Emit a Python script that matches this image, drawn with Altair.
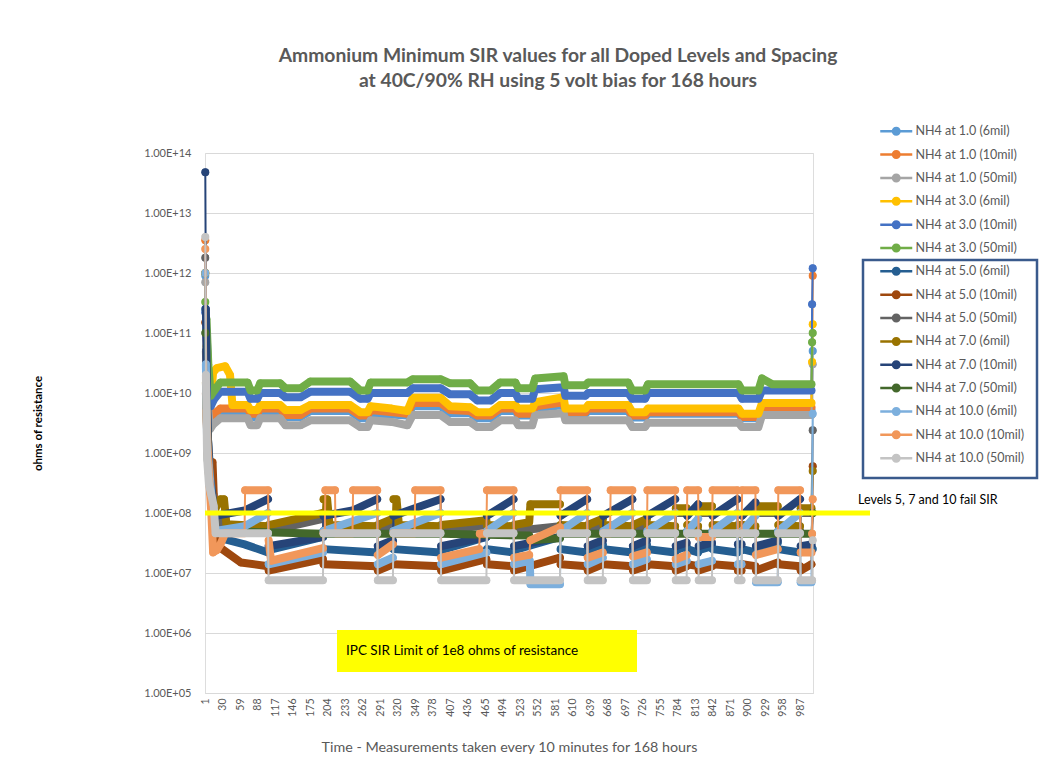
import altair as alt
import pandas as pd

names = ["NH4 at 1.0 (6mil)", "NH4 at 1.0 (10mil)", "NH4 at 1.0  (50mil)",
         "NH4 at 3.0 (6mil)", "NH4 at 3.0 (10mil)", "NH4 at 3.0 (50mil)",
         "NH4 at 5.0 (6mil)", "NH4 at 5.0 (10mil)", "NH4 at 5.0 (50mil)",
         "NH4 at 7.0 (6mil)", "NH4 at 7.0 (10mil)", "NH4 at 7.0 (50mil)",
         "NH4 at 10.0 (6mil)", "NH4 at 10.0 (10mil)", "NH4 at 10.0 (50mil)"]
colors = ["#5B9BD5", "#ED7D31", "#A5A5A5", "#FFC000", "#4472C4", "#70AD47",
          "#255E91", "#9E480E", "#636363", "#997300", "#264478", "#43682B",
          "#7CAFDD", "#F1975A", "#C4C4C4"]

# each series: list of runs of (measurement index, ohms)
s01 = [[(1, 9.0e11)],
       [(3, 5.0e10), (6, 8.0e9), (10, 3.5e9), (16, 4.2e9), (26, 5.0e9), (71, 5.0e9), (76, 4.0e9), (87, 4.0e9),
        (92, 5.0e9), (125, 5.0e9), (134, 4.0e9), (159, 4.0e9), (175, 5.0e9), (241, 5.0e9), (258, 3.8e9),
        (270, 3.8e9), (275, 4.6e9), (336, 4.2e9), (345, 6.0e9), (391, 6.0e9), (407, 4.6e9), (440, 4.6e9),
        (452, 3.8e9), (474, 3.8e9), (490, 5.0e9), (515, 5.0e9), (520, 4.2e9), (543, 4.2e9), (548, 5.5e9),
        (595, 6.3e9), (598, 4.5e9), (631, 4.5e9), (636, 5.0e9), (702, 5.0e9), (709, 3.9e9), (730, 3.9e9),
        (735, 4.5e9), (885, 4.5e9), (891, 3.8e9), (918, 3.8e9), (924, 5.2e9), (1006, 5.2e9)],
       [(1008, 5.0e10)]]
s02 = [[(1, 3.5e12)],
       [(3, 9.0e10), (6, 1.5e10), (10, 4.0e9), (16, 4.5e9), (26, 5.5e9), (71, 5.5e9), (76, 4.5e9), (87, 4.5e9),
        (92, 5.5e9), (125, 5.5e9), (134, 4.3e9), (159, 4.3e9), (175, 5.5e9), (241, 5.5e9), (258, 4.2e9),
        (270, 4.2e9), (275, 5.2e9), (336, 4.5e9), (345, 6.8e9), (391, 6.8e9), (407, 5.2e9), (440, 5.0e9),
        (452, 4.2e9), (474, 4.2e9), (490, 5.5e9), (515, 5.5e9), (520, 4.5e9), (543, 4.5e9), (548, 6.0e9),
        (595, 7.0e9), (598, 4.8e9), (631, 4.8e9), (636, 5.5e9), (702, 5.5e9), (709, 4.2e9), (730, 4.2e9),
        (735, 4.8e9), (885, 4.8e9), (891, 4.0e9), (918, 4.0e9), (924, 5.8e9), (1006, 5.8e9)],
       [(1008, 9.0e11)]]
s03 = [[(1, 7.0e11)],
       [(3, 3.0e10), (6, 5.0e9), (9, 2.5e9), (14, 3.0e9), (26, 3.8e9), (71, 3.8e9), (76, 2.9e9), (87, 2.9e9),
        (92, 3.8e9), (125, 3.8e9), (134, 2.9e9), (159, 2.9e9), (175, 3.5e9), (241, 3.5e9), (258, 2.7e9),
        (270, 2.7e9), (275, 3.5e9), (310, 3.3e9), (336, 2.9e9), (345, 4.3e9), (391, 4.3e9), (407, 3.3e9),
        (440, 3.3e9), (452, 2.7e9), (474, 2.7e9), (490, 3.5e9), (515, 3.5e9), (520, 2.9e9), (543, 2.9e9),
        (548, 4.3e9), (595, 4.6e9), (598, 3.5e9), (631, 3.5e9), (636, 3.5e9), (702, 3.5e9), (709, 2.7e9),
        (730, 2.7e9), (735, 3.2e9), (885, 3.2e9), (891, 2.7e9), (918, 2.7e9), (924, 4.3e9), (1006, 4.3e9)],
       [(1008, 3.0e10)]]
s04 = [[(1, 1.0e12)],
       [(3, 6.0e10), (6, 1.2e10), (10, 8.0e9), (14, 2.2e10), (20, 2.6e10), (34, 2.8e10), (42, 2.0e10),
        (46, 6.3e9), (71, 6.3e9), (76, 5.2e9), (87, 5.2e9), (92, 6.3e9), (125, 6.3e9), (134, 5.2e9),
        (159, 5.2e9), (175, 6.3e9), (241, 6.3e9), (258, 4.8e9), (270, 4.8e9), (275, 6.0e9), (310, 5.5e9),
        (336, 5.0e9), (345, 8.3e9), (391, 8.3e9), (407, 6.0e9), (440, 5.8e9), (452, 4.8e9), (474, 4.8e9),
        (490, 6.3e9), (515, 6.3e9), (520, 5.5e9), (543, 5.5e9), (548, 7.0e9), (595, 8.5e9), (598, 5.5e9),
        (631, 5.5e9), (636, 6.3e9), (702, 6.3e9), (709, 4.8e9), (730, 4.8e9), (735, 5.5e9), (885, 5.5e9),
        (891, 4.5e9), (918, 4.5e9), (924, 6.8e9), (1006, 6.8e9)],
       [(1007, 3.3e10)], [(1008, 1.4e11)]]
s05 = [[(1, 2.2e11)],
       [(3, 1.1e11), (6, 2.0e10), (10, 6.0e9), (16, 8.0e9), (26, 1.05e10), (71, 1.05e10), (76, 8.0e9),
        (87, 8.0e9), (92, 1.0e10), (125, 1.0e10), (134, 8.5e9), (159, 8.5e9), (175, 1.05e10), (241, 1.05e10),
        (258, 8.0e9), (270, 8.0e9), (275, 1.0e10), (336, 1.0e10), (345, 1.2e10), (391, 1.2e10), (407, 9.5e9),
        (440, 9.5e9), (452, 7.5e9), (474, 7.5e9), (490, 1.0e10), (515, 1.0e10), (520, 8.0e9), (543, 8.0e9),
        (548, 1.15e10), (595, 1.25e10), (598, 9.0e9), (631, 9.0e9), (636, 1.0e10), (702, 1.0e10), (709, 8.0e9),
        (730, 8.0e9), (735, 1.0e10), (885, 1.0e10), (891, 8.0e9), (918, 8.0e9), (924, 1.1e10), (1006, 1.1e10)],
       [(1007, 3.0e11)], [(1008, 1.2e12)]]
s06 = [[(1, 3.3e11)],
       [(3, 1.7e11), (6, 3.0e10), (10, 9.0e9), (16, 1.1e10), (26, 1.5e10), (71, 1.5e10), (76, 1.1e10),
        (87, 1.1e10), (92, 1.45e10), (125, 1.45e10), (134, 1.2e10), (159, 1.2e10), (175, 1.55e10),
        (241, 1.55e10), (258, 1.1e10), (270, 1.1e10), (275, 1.5e10), (336, 1.5e10), (345, 1.7e10),
        (391, 1.7e10), (407, 1.45e10), (440, 1.45e10), (452, 1.1e10), (474, 1.1e10), (490, 1.5e10),
        (515, 1.5e10), (520, 1.2e10), (543, 1.2e10), (548, 1.75e10), (595, 1.9e10), (598, 1.35e10),
        (631, 1.35e10), (636, 1.5e10), (702, 1.5e10), (709, 1.1e10), (730, 1.1e10), (735, 1.4e10),
        (885, 1.4e10), (891, 1.1e10), (918, 1.1e10), (924, 1.75e10), (941, 1.4e10), (1006, 1.4e10)],
       [(1007, 7.0e10)], [(1008, 1.0e11)]]
s07 = [[(1, 2.5e11)],
       [(3, 2.0e10), (5, 2.0e9), (9, 5.0e8), (13, 2.0e8), (16, 6.0e7), (18, 4.0e7), (66, 3.0e7), (105, 2.2e7)],
       [(106, 2.4e7), (196, 4.0e7)], [(197, 2.5e7), (286, 2.2e7)], [(287, 2.4e7), (312, 3.0e7)],
       [(313, 2.5e7), (391, 2.2e7)], [(392, 2.4e7), (467, 4.0e7)], [(468, 2.5e7), (512, 2.2e7)],
       [(513, 2.4e7), (589, 4.0e7)], [(590, 2.5e7), (634, 2.2e7)], [(635, 2.4e7), (660, 3.0e7)],
       [(661, 2.5e7), (709, 2.2e7)], [(710, 2.4e7), (733, 3.0e7)], [(734, 2.5e7), (780, 2.2e7)],
       [(781, 2.4e7), (799, 2.8e7)], [(800, 2.5e7), (818, 2.2e7)], [(819, 2.4e7), (841, 2.8e7)],
       [(842, 2.5e7), (883, 2.2e7)], [(884, 2.4e7), (890, 2.4e7)], [(891, 2.5e7), (913, 2.2e7)],
       [(914, 2.4e7), (950, 3.2e7)], [(951, 2.5e7), (987, 2.2e7)], [(988, 2.4e7), (1006, 2.8e7)],
       [(1008, 2.5e7)]]
s08 = [[(1, 1.5e11)],
       [(2, 1.0e10), (5, 1.0e9), (9, 4.0e8), (13, 7.0e8), (15, 2.0e8), (18, 3.0e7), (60, 1.5e7), (105, 1.3e7)],
       [(106, 1.1e7), (196, 1.7e7)], [(197, 1.4e7), (286, 1.3e7)], [(287, 1.1e7), (312, 1.4e7)],
       [(313, 1.4e7), (391, 1.3e7)], [(392, 1.1e7), (467, 1.7e7)], [(468, 1.4e7), (512, 1.3e7)],
       [(513, 1.1e7), (589, 1.8e7)], [(590, 1.4e7), (634, 1.3e7)], [(635, 1.1e7), (660, 1.4e7)],
       [(661, 1.4e7), (709, 1.3e7)], [(710, 1.1e7), (733, 1.3e7)], [(734, 1.4e7), (780, 1.3e7)],
       [(781, 1.1e7), (799, 1.3e7)], [(800, 1.4e7), (818, 1.3e7)], [(819, 1.1e7), (841, 1.3e7)],
       [(842, 1.4e7), (883, 1.3e7)], [(884, 1.1e7), (890, 1.1e7)], [(891, 1.4e7), (913, 1.3e7)],
       [(914, 1.1e7), (950, 1.5e7)], [(951, 1.4e7), (987, 1.3e7)], [(988, 1.1e7), (1006, 1.4e7)],
       [(1008, 6.0e8)]]
s09 = [[(1, 1.8e12)],
       [(2, 5.0e10), (5, 2.0e9), (9, 4.0e8), (13, 2.0e8), (18, 1.0e8), (36, 5.0e7), (105, 5.0e7)],
       [(106, 5.0e7), (196, 8.0e7)], [(197, 5.0e7), (286, 5.0e7)], [(287, 5.0e7), (312, 6.5e7)],
       [(313, 5.0e7), (391, 5.0e7)], [(392, 5.0e7), (467, 6.3e7)], [(468, 5.0e7), (512, 5.0e7)],
       [(513, 5.0e7), (589, 6.0e7)], [(590, 5.0e7), (634, 5.0e7)], [(635, 5.0e7), (660, 6.5e7)],
       [(661, 5.0e7), (709, 5.0e7)], [(710, 5.0e7), (733, 6.5e7)], [(734, 5.0e7), (780, 5.0e7)],
       [(781, 1.0e8), (799, 1.0e8)], [(800, 5.0e7), (818, 5.0e7)], [(819, 1.0e8), (841, 1.0e8)],
       [(842, 5.0e7), (883, 5.0e7)], [(884, 5.0e7), (890, 5.0e7)], [(891, 5.0e7), (913, 5.0e7)],
       [(914, 1.0e8), (950, 1.0e8)], [(951, 5.0e7), (987, 5.0e7)], [(988, 1.0e8), (1006, 1.0e8)],
       [(1008, 2.4e9)]]
s10 = [[(1, 1.0e12)],
       [(2, 1.5e10), (5, 1.0e9), (9, 3.0e8), (13, 1.5e8), (18, 1.2e8), (26, 1.7e8), (32, 1.7e8), (36, 6.5e7),
        (105, 6.0e7)],
       [(106, 6.3e7), (196, 1.0e8)], [(197, 1.7e8), (203, 1.7e8), (207, 6.3e7), (286, 6.0e7)],
       [(287, 6.3e7), (312, 8.0e7)], [(313, 1.7e8), (318, 1.7e8), (322, 6.3e7), (391, 6.0e7)],
       [(392, 6.3e7), (467, 7.6e7)], [(468, 6.3e7), (512, 6.0e7)],
       [(513, 6.3e7), (538, 7.0e7), (540, 1.4e8), (589, 1.4e8)], [(590, 6.3e7), (634, 6.0e7)],
       [(635, 6.3e7), (660, 8.0e7)], [(661, 6.3e7), (709, 6.0e7)], [(710, 6.3e7), (733, 8.0e7)],
       [(734, 6.3e7), (780, 6.0e7)], [(781, 1.2e8), (799, 1.2e8)], [(800, 6.3e7), (818, 6.0e7)],
       [(819, 1.3e8), (841, 1.3e8)], [(842, 6.3e7), (883, 6.0e7)], [(884, 6.3e7), (890, 6.3e7)],
       [(891, 6.3e7), (913, 6.0e7)], [(914, 1.3e8), (950, 1.3e8)], [(951, 6.3e7), (987, 6.0e7)],
       [(988, 1.2e8), (1006, 1.2e8)], [(1008, 5.0e8)]]
s11 = [[(1, 4.8e13)],
       [(2, 2.5e11), (4, 5.0e9), (7, 5.0e8), (11, 2.5e8), (15, 1.1e8), (18, 9.0e7), (66, 1.1e8), (105, 1.7e8)],
       [(106, 2.8e7), (196, 4.0e7)], [(197, 9.0e7), (245, 1.1e8), (286, 1.7e8)], [(287, 2.8e7), (312, 3.5e7)],
       [(313, 9.0e7), (391, 1.7e8)], [(392, 2.8e7), (467, 4.0e7)], [(468, 9.0e7), (512, 1.7e8)],
       [(513, 2.8e7), (589, 4.0e7)], [(590, 9.0e7), (634, 1.7e8)], [(635, 2.8e7), (660, 3.5e7)],
       [(661, 9.0e7), (709, 1.7e8)], [(710, 2.8e7), (733, 3.5e7)], [(734, 9.0e7), (780, 1.7e8)],
       [(781, 2.8e7), (799, 3.2e7)], [(800, 9.0e7), (818, 1.4e8)], [(819, 2.8e7), (841, 3.2e7)],
       [(842, 9.0e7), (883, 1.7e8)], [(884, 3.0e7), (890, 3.0e7)], [(891, 9.0e7), (913, 1.5e8)],
       [(914, 2.8e7), (950, 3.5e7)], [(951, 9.0e7), (987, 1.7e8)], [(988, 2.8e7), (1006, 3.0e7)],
       [(1008, 1.0e8)]]
s12 = [[(1, 1.0e11)],
       [(3, 8.0e9), (5, 8.0e8), (9, 2.5e8), (13, 1.2e8), (18, 5.0e7), (196, 4.5e7), (391, 4.5e7), (538, 4.2e7),
        (540, 3.5e7), (589, 3.8e7), (590, 4.5e7), (1006, 4.5e7)],
       [(1008, 1.0e8)]]
s13 = [[(1, 1.0e12)],
       [(2, 3.0e10), (4, 1.5e9), (7, 6.0e8), (11, 2.0e8), (15, 8.0e7), (18, 5.0e7), (66, 6.0e7), (105, 1.0e8)],
       [(106, 1.4e7), (196, 2.2e7)], [(197, 5.0e7), (286, 1.0e8)], [(287, 1.4e7), (312, 1.8e7)],
       [(313, 5.0e7), (391, 1.0e8)], [(392, 1.4e7), (467, 2.2e7)], [(468, 5.0e7), (512, 1.0e8)],
       [(513, 1.4e7), (539, 1.6e7), (540, 6.5e6), (589, 6.5e6)], [(590, 5.0e7), (634, 1.0e8)],
       [(635, 1.4e7), (660, 1.8e7)], [(661, 5.0e7), (709, 1.0e8)], [(710, 1.4e7), (733, 1.7e7)],
       [(734, 5.0e7), (780, 1.0e8)], [(781, 1.4e7), (799, 1.6e7)], [(800, 5.0e7), (818, 8.0e7)],
       [(819, 1.4e7), (841, 1.6e7)], [(842, 5.0e7), (883, 1.0e8)], [(884, 1.4e7), (890, 1.4e7)],
       [(891, 5.0e7), (913, 9.0e7)], [(914, 7.0e6), (950, 7.0e6)], [(951, 5.0e7), (987, 1.0e8)],
       [(988, 7.0e6), (1006, 7.0e6)], [(1008, 4.5e9)]]
s14 = [[(1, 2.5e12)],
       [(3, 5.0e9), (5, 1.0e9), (8, 3.0e8), (11, 1.0e8), (14, 2.2e7), (20, 2.4e7), (26, 3.0e7), (34, 4.6e7),
        (66, 4.6e7)],
       [(67, 2.4e8), (105, 2.4e8)], [(106, 3.5e7), (110, 1.6e7), (196, 2.6e7)], [(197, 4.6e7), (199, 4.6e7)],
       [(200, 2.4e8), (216, 2.4e8)], [(217, 4.6e7), (245, 4.6e7)], [(246, 2.4e8), (286, 2.4e8)],
       [(287, 2.0e7), (312, 3.0e7)], [(313, 4.6e7), (348, 4.6e7)], [(349, 2.4e8), (391, 2.4e8)],
       [(392, 1.8e7), (455, 2.5e7)], [(456, 4.5e7), (467, 4.5e7)], [(468, 2.4e8), (512, 2.4e8)],
       [(513, 1.8e7), (538, 2.0e7)], [(540, 3.5e7), (589, 5.8e7)], [(590, 2.4e8), (634, 2.4e8)],
       [(635, 1.8e7), (660, 2.2e7)], [(661, 4.6e7), (672, 4.6e7)], [(673, 2.4e8), (709, 2.4e8)],
       [(710, 1.9e7), (733, 2.2e7)], [(734, 2.4e8), (780, 2.4e8)], [(781, 1.7e7), (799, 2.0e7)],
       [(800, 2.4e8), (818, 2.4e8)], [(819, 4.0e7), (841, 4.0e7)], [(842, 2.4e8), (883, 2.4e8)],
       [(884, 4.6e7), (890, 4.6e7)], [(891, 2.4e8), (913, 2.4e8)], [(914, 2.0e7), (950, 2.5e7)],
       [(951, 2.4e8), (987, 2.4e8)], [(988, 2.2e7), (1006, 2.2e7)], [(1007, 4.5e7)], [(1008, 1.7e8)]]
s15 = [[(1, 4.0e12)],
       [(2, 2.0e10), (4, 8.0e8), (7, 3.0e8), (11, 2.0e8), (15, 1.3e8), (18, 4.6e7), (105, 4.6e7)],
       [(106, 7.6e6), (196, 7.6e6)], [(197, 4.6e7), (286, 4.6e7)], [(287, 7.6e6), (312, 7.6e6)],
       [(313, 4.6e7), (391, 4.6e7)], [(392, 7.6e6), (467, 7.6e6)], [(468, 4.6e7), (512, 4.6e7)],
       [(513, 7.6e6), (589, 7.6e6)], [(590, 4.6e7), (634, 4.6e7)], [(635, 7.6e6), (660, 7.6e6)],
       [(661, 4.6e7), (709, 4.6e7)], [(710, 7.6e6), (733, 7.6e6)], [(734, 4.6e7), (780, 4.6e7)],
       [(781, 7.6e6), (799, 7.6e6)], [(800, 4.6e7), (818, 4.6e7)], [(819, 7.6e6), (841, 7.6e6)],
       [(842, 4.6e7), (883, 4.6e7)], [(884, 7.6e6), (890, 7.6e6)], [(891, 4.6e7), (913, 4.6e7)],
       [(914, 7.6e6), (950, 7.6e6)], [(951, 4.6e7), (987, 4.6e7)], [(988, 7.6e6), (1007, 7.6e6)],
       [(1008, 3.5e7)]]

all_series = [s01, s02, s03, s04, s05, s06, s07, s08, s09, s10, s11, s12, s13, s14, s15]

x_ticks = [1, 30, 59, 88, 117, 146, 175, 204, 233, 262, 291, 320, 349, 378, 407, 436, 465, 494,
           523, 552, 581, 610, 639, 668, 697, 726, 755, 784, 813, 842, 871, 900, 929, 958, 987]
y_ticks = [1e5, 1e6, 1e7, 1e8, 1e9, 1e10, 1e11, 1e12, 1e13, 1e14]
sir_limit = [1e8]

rows = []
for si, (name, runs) in enumerate(zip(names, all_series)):
    for ri, run in enumerate(runs):
        for (i, v) in run:
            rows.append({"series": name, "run": f"{si}-{ri}", "idx": i, "value": v})
df = pd.DataFrame(rows)
limit_df = pd.DataFrame({"value": sir_limit})

FONT = "Lato"
GREY = "#595959"

xenc = alt.X("idx:Q",
             scale=alt.Scale(domain=[0.5, 1008.5], nice=False, zero=False),
             axis=alt.Axis(values=x_ticks, labelAngle=-90, labelFontSize=10.5, labelColor=GREY,
                           labelFont=FONT, labelPadding=5, ticks=False, grid=False,
                           domainColor="#D9D9D9", labelOverlap=False, labelBound=False,
                           title="Time - Measurements taken every 10 minutes for 168 hours",
                           titleFont=FONT, titleFontSize=14.3, titleFontWeight="normal",
                           titleColor=GREY, titleY=54, titleBaseline="middle"))
yenc = alt.Y("value:Q",
             scale=alt.Scale(type="log", domain=[1e5, 1e14], nice=False),
             axis=alt.Axis(values=y_ticks,
                           labelExpr="'1.00E+' + (round(log(datum.value)/LN10) < 10 ? '0' : '') + round(log(datum.value)/LN10)",
                           labelFont=FONT, labelFontSize=11, labelColor=GREY, labelPadding=14,
                           ticks=False, domain=False, grid=True, gridColor="#D9D9D9", gridWidth=1,
                           title="ohms of resistance", titleFont=FONT, titleFontSize=11.5,
                           titleFontWeight="bold", titleColor="#000000", titleX=-167, titleY=270,
                           titleAngle=-90, titleBaseline="middle", titleAlign="center"))

SYMBOL = ("M -3.2 -0.25 L 3.2 -0.25 L 3.2 0.25 L -3.2 0.25 Z "
          "M 0.9 0 A 0.9 0.9 0 1 1 -0.9 0 A 0.9 0.9 0 1 1 0.9 0 Z")
cscale = alt.Scale(domain=names, range=colors)
legend = alt.Legend(title=None, orient="none", legendX=685, legendY=-28, symbolType=SYMBOL,
                    symbolSize=100, symbolStrokeWidth=0, labelFont=FONT, labelFontSize=12.5,
                    labelColor=GREY, labelOffset=13, rowPadding=10.35, padding=0, labelLimit=300)

layers = []
for name in names:
    base = alt.Chart(df).transform_filter(alt.datum.series == name)
    layers.append(base.mark_point(filled=True, size=55, opacity=1).encode(
        x=xenc, y=yenc, color=alt.Color("series:N", scale=cscale, legend=legend)))
    layers.append(base.mark_line(strokeWidth=2).encode(
        x=xenc, y=yenc, color=alt.Color("series:N", scale=cscale, legend=None)))
    layers.append(base.mark_line(strokeWidth=8, strokeCap="round", strokeJoin="round").encode(
        x=xenc, y=yenc, color=alt.Color("series:N", scale=cscale, legend=None), detail="run:N"))

limit_line = alt.Chart(limit_df).mark_rule(color="#FFFF00", strokeWidth=5).encode(
    y=yenc, x=alt.value(0), x2=alt.value(665))
fail_text = alt.Chart(limit_df).mark_text(align="left", baseline="middle", font=FONT, fontSize=12.5,
                                          color="#000000").encode(
    x=alt.value(653), y=alt.value(347), text=alt.value("Levels 5, 7 and 10 fail SIR"))
ipc_box = alt.Chart(limit_df).mark_rect(color="#FFFF00").encode(
    x=alt.value(132), x2=alt.value(432), y=alt.value(477), y2=alt.value(519))
ipc_text = alt.Chart(limit_df).mark_text(align="left", baseline="middle", font=FONT, fontSize=13.5,
                                         color="#000000").encode(
    x=alt.value(141), y=alt.value(498), text=alt.value("IPC SIR Limit of 1e8 ohms of resistance"))
legend_box = alt.Chart(limit_df).mark_rect(filled=False, stroke="#3A5A8C", strokeWidth=2.5).encode(
    x=alt.value(658), x2=alt.value(832), y=alt.value(107), y2=alt.value(325))

chart = alt.layer(*layers, limit_line, fail_text, ipc_box, ipc_text, legend_box).properties(
    width=608, height=540,
    autosize=alt.AutoSizeParams(type="none"),
    padding={"left": 197, "top": 145, "right": 226, "bottom": 65},
    title=alt.TitleParams(
        text=["Ammonium Minimum SIR values  for all Doped Levels and Spacing",
              "at 40C/90% RH using 5 volt bias for 168 hours"],
        font=FONT, fontSize=19.3, fontWeight="bold", color=GREY, anchor="middle", dx=49,
        offset=33.5, lineHeight=25),
).configure_view(stroke=None).configure(font=FONT)

chart.save("out.html", embed_options={"renderer": "svg", "actions": False})
